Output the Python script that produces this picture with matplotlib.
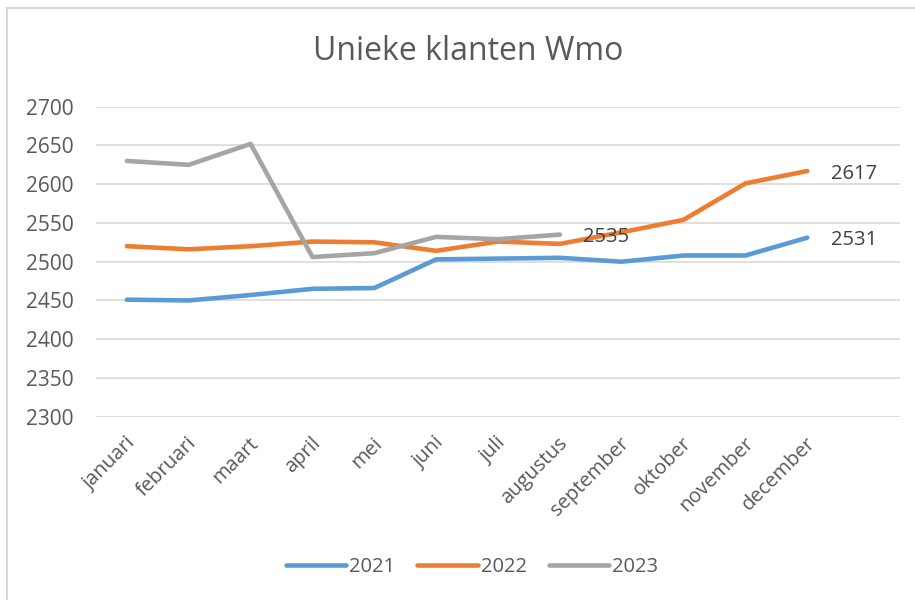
import matplotlib
matplotlib.use('Agg')
import matplotlib.pyplot as plt
import matplotlib.transforms as mtransforms
from matplotlib.patches import Rectangle

plt.rcParams['font.family'] = ['Open Sans', 'DejaVu Sans']

# data
months = ['januari', 'februari', 'maart', 'april', 'mei', 'juni', 'juli',
          'augustus', 'september', 'oktober', 'november', 'december']
v2021 = [2451, 2450, 2457, 2465, 2466, 2503, 2504, 2505, 2500, 2508, 2508, 2531]
v2022 = [2520, 2516, 2520, 2526, 2525, 2514, 2526, 2523, 2538, 2554, 2601, 2617]
v2023 = [2630, 2625, 2652, 2506, 2511, 2532, 2529, 2535]
y_ticks = [2300, 2350, 2400, 2450, 2500, 2550, 2600, 2650, 2700]

series = [('2021', v2021, '#5B9BD5'),
          ('2022', v2022, '#ED7D31'),
          ('2023', v2023, '#A5A5A5')]
text_col = '#595959'
grid_col = '#D9D9D9'

fig = plt.figure(figsize=(9.15, 6), dpi=100)
ax = fig.add_axes([96 / 915, 1 - 416.7 / 600, (900 - 96) / 915, 310 / 600])

# chart border (only left/top visible in the crop)
fig.patches.append(Rectangle((7 / 915, -0.1), 1.2, 1 - 8 / 600 + 0.1,
                             transform=fig.transFigure, fill=False,
                             edgecolor='#D9D9D9', lw=1.5))

for name, vals, col in series:
    ax.plot(range(len(vals)), vals, color=col, lw=3.3, solid_capstyle='round',
            solid_joinstyle='round', label=name)
    # label at the last point
    ax.annotate(str(vals[-1]), (len(vals) - 1, vals[-1]), xytext=(17, -2),
                textcoords='offset points', va='center', ha='left',
                fontsize=14.5, color='#404040')

ax.set_xlim(-0.5, 12.5)
ax.set_ylim(2300, 2700)
ax.set_yticks(y_ticks)
ax.set_yticklabels([str(t) for t in y_ticks])
ax.grid(axis='y', color=grid_col, lw=1.2)
ax.set_axisbelow(True)
for s in ax.spines.values():
    s.set_visible(False)
ax.tick_params(axis='both', length=0, colors=text_col, labelsize=15)
ax.tick_params(axis='y', pad=16)

ax.set_xticks(range(len(months)))
ax.set_xticklabels(months, rotation=45, ha='right', va='center',
                   rotation_mode='anchor', fontsize=14.5)
offset = mtransforms.ScaledTranslation(5 / 100, -19 / 100, fig.dpi_scale_trans)
for lbl in ax.get_xticklabels():
    lbl.set_transform(lbl.get_transform() + offset)

fig.text(468 / 915, 1 - 52 / 600, 'Unieke klanten Wmo', ha='center',
         va='center', fontsize=23, color=text_col)

leg = fig.legend(loc='center', bbox_to_anchor=(472 / 915, 1 - 567 / 600),
                 ncol=3, frameon=False, fontsize=14.5, handlelength=3.0,
                 handletextpad=0.15, columnspacing=1.1)
for t in leg.get_texts():
    t.set_color(text_col)

fig.savefig('out.png', dpi=100)
